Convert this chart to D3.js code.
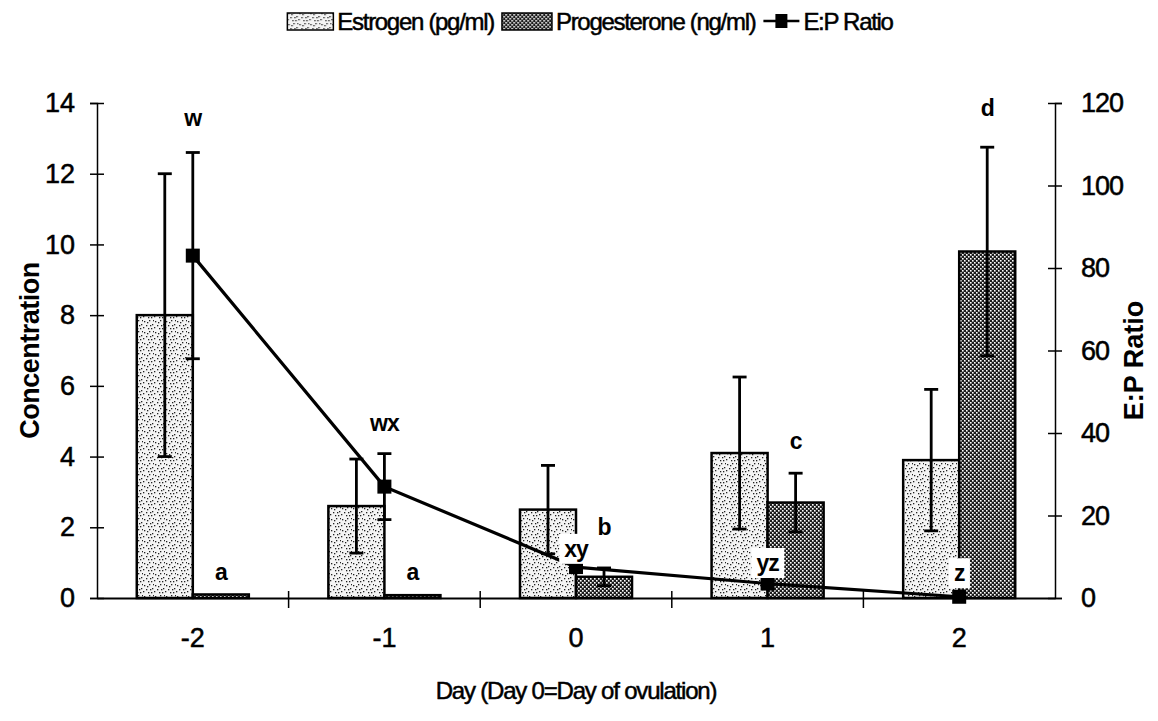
<!DOCTYPE html>
<html><head><meta charset="utf-8">
<script src="https://cdn.jsdelivr.net/npm/d3@7"></script>
<style>
body{margin:0;background:#fff}
svg{display:block}
text{font-family:"Liberation Sans",Arial,Helvetica,sans-serif;fill:#000}
.heavy{stroke:#000;stroke-width:0.5px}
</style>
</head><body>
<svg id="c" width="1158" height="721"></svg>
<script>
// ---------- data ----------
const days = ["-2", "-1", "0", "1", "2"];
const estrogen = [8.0, 2.6, 2.5, 4.1, 3.9];
const estrogenErr = [4.0, 1.33, 1.25, 2.15, 2.0];
const progesterone = [0.1, 0.08, 0.6, 2.7, 9.8];
const progesteroneErr = [0, 0, 0.25, 0.83, 2.95];
const epRatio = [83, 27, 7.5, 3.5, 0.3];
const epRatioErr = [25, 8, 0, 0, 0];
const leftTicks = [0, 2, 4, 6, 8, 10, 12, 14];
const rightTicks = [0, 20, 40, 60, 80, 100, 120];
const seriesNames = ["Estrogen (pg/ml)", "Progesterone (ng/ml)", "E:P Ratio"];
const labelText = ["w", "a", "wx", "a", "xy", "b", "yz", "c", "z", "d"];
const labelDay = ["-2", "-2", "-1", "-1", "0", "0", "1", "1", "2", "2"];
const labelSeries = ["group", "prog", "group", "prog", "group", "prog", "group", "prog", "group", "prog"];
const labelValue = [13.57, 0.74, 4.95, 0.74, 1.39, 2.0, 0.99, 4.44, 0.7, 13.86];
const labelBoxed = [false, false, false, false, true, false, true, false, true, false];

// ---------- layout ----------
const svg = d3.select("#c");
const L = 97, R = 1055, T = 103, B = 598;

const x0 = d3.scaleBand().domain(days).range([L, R]).padding(0);
const x1 = d3.scaleBand().domain(["E", "P"]).range([0, x0.bandwidth()]).paddingInner(0).paddingOuter(0.71);
const yL = d3.scaleLinear().domain([0, 14]).range([B, T]);
const yR = d3.scaleLinear().domain([0, 120]).range([B, T]);

// ---------- patterns ----------
const defs = svg.append("defs");
const pe = defs.append("pattern").attr("id", "pEst").attr("patternUnits", "userSpaceOnUse")
  .attr("width", 11).attr("height", 11);
pe.append("rect").attr("width", 11).attr("height", 11).attr("fill", "#f4f4f4");
[[1,2],[6,1],[3,6],[9,5],[5,9],[8,9],[0,8],[4,3],[10,1],[7,6]].forEach(d =>
  pe.append("rect").attr("x", d[0]).attr("y", d[1]).attr("width", 1.3).attr("height", 1.3).attr("fill", "#222"));
const pp = defs.append("pattern").attr("id", "pProg").attr("patternUnits", "userSpaceOnUse")
  .attr("width", 4).attr("height", 4);
pp.append("rect").attr("width", 4).attr("height", 4).attr("fill", "#1c1c1c");
pp.append("rect").attr("x", 0).attr("y", 0).attr("width", 1.6).attr("height", 1.6).attr("fill", "#fff");
pp.append("rect").attr("x", 2).attr("y", 2).attr("width", 1.6).attr("height", 1.6).attr("fill", "#fff");

// ---------- axes ----------
const axL = svg.append("g").attr("transform", `translate(${L},0)`)
  .call(d3.axisLeft(yL).tickValues(leftTicks).tickSize(7).tickPadding(15));
axL.select(".domain").attr("stroke", "#000").attr("stroke-width", 1.5);
axL.selectAll(".tick line").attr("x1", -7).attr("x2", 7).attr("stroke", "#000").attr("stroke-width", 1.5);
axL.selectAll("text").attr("class", "heavy").style("font-size", "27px").style("font-family", "'Liberation Sans',Arial,sans-serif");

const axR = svg.append("g").attr("transform", `translate(${R},0)`)
  .call(d3.axisRight(yR).tickValues(rightTicks).tickSize(7).tickPadding(19));
axR.select(".domain").attr("stroke", "#000").attr("stroke-width", 1.5);
axR.selectAll(".tick line").attr("x1", -7).attr("x2", 7).attr("stroke", "#000").attr("stroke-width", 1.5);
axR.selectAll("text").attr("class", "heavy").style("font-size", "27px").style("letter-spacing", "-1px")
  .style("font-family", "'Liberation Sans',Arial,sans-serif");

const axB = svg.append("g").attr("transform", `translate(0,${B})`)
  .call(d3.axisBottom(x0).tickSize(0).tickPadding(30));
axB.select(".domain").attr("stroke", "#000").attr("stroke-width", 2);
axB.selectAll("text").attr("class", "heavy").style("font-size", "27px").style("font-family", "'Liberation Sans',Arial,sans-serif");
// category separators crossing the baseline
svg.append("g").selectAll("line").data(days.slice(1)).join("line")
  .attr("x1", d => x0(d)).attr("x2", d => x0(d))
  .attr("y1", B - 7).attr("y2", B + 10)
  .attr("stroke", "#000").attr("stroke-width", 1.5);

// ---------- bars ----------
const gBars = svg.append("g");
days.forEach((d, i) => {
  gBars.append("rect")
    .attr("x", x0(d) + x1("E")).attr("width", x1.bandwidth())
    .attr("y", yL(estrogen[i])).attr("height", yL(0) - yL(estrogen[i]))
    .attr("fill", "url(#pEst)").attr("stroke", "#000").attr("stroke-width", 2.5);
  gBars.append("rect")
    .attr("x", x0(d) + x1("P")).attr("width", x1.bandwidth())
    .attr("y", yL(progesterone[i])).attr("height", yL(0) - yL(progesterone[i]))
    .attr("fill", "url(#pProg)").attr("stroke", "#000").attr("stroke-width", 2.5);
});

// ---------- error bars ----------
function errBar(g, cx, yTop, yBot) {
  g.append("line").attr("x1", cx).attr("x2", cx).attr("y1", yTop).attr("y2", yBot)
    .attr("stroke", "#000").attr("stroke-width", 2.8);
  [yTop, yBot].forEach(y => g.append("line").attr("x1", cx - 7).attr("x2", cx + 7).attr("y1", y).attr("y2", y)
    .attr("stroke", "#000").attr("stroke-width", 2.8));
}
const gErr = svg.append("g");
days.forEach((d, i) => {
  if (estrogenErr[i] > 0) {
    const cx = x0(d) + x1("E") + x1.bandwidth() / 2;
    errBar(gErr, cx, yL(estrogen[i] + estrogenErr[i]), yL(estrogen[i] - estrogenErr[i]));
  }
  if (progesteroneErr[i] > 0) {
    const cx = x0(d) + x1("P") + x1.bandwidth() / 2;
    errBar(gErr, cx, yL(progesterone[i] + progesteroneErr[i]), yL(progesterone[i] - progesteroneErr[i]));
  }
});

// ---------- ratio line ----------
const cxG = d => x0(d) + x0.bandwidth() / 2;
const line = d3.line().x((v, i) => cxG(days[i])).y(v => yR(v));
svg.append("path").datum(epRatio).attr("d", line)
  .attr("fill", "none").attr("stroke", "#000").attr("stroke-width", 3.2);
days.forEach((d, i) => {
  if (epRatioErr[i] > 0) errBar(gErr, cxG(d), yR(epRatio[i] + epRatioErr[i]), yR(epRatio[i] - epRatioErr[i]));
});
svg.append("g").selectAll("rect").data(epRatio).join("rect")
  .attr("x", (v, i) => cxG(days[i]) - 7).attr("y", v => yR(v) - 7)
  .attr("width", 14).attr("height", 14).attr("fill", "#000");

// ---------- significance letters ----------
const gLab = svg.append("g");
labelText.forEach((t, i) => {
  const d = labelDay[i];
  const cx = labelSeries[i] === "group" ? cxG(d) : x0(d) + x1("P") + x1.bandwidth() / 2;
  const cy = yL(labelValue[i]);
  const g = gLab.append("g");
  const txt = g.append("text").attr("x", cx).attr("y", cy).attr("text-anchor", "middle")
    .attr("dominant-baseline", "central").style("font-size", "23px").style("font-weight", "bold")
    .style("letter-spacing", "-1px").text(t);
  if (labelBoxed[i]) {
    const bb = txt.node().getBBox();
    g.insert("rect", "text").attr("x", bb.x - 5).attr("y", bb.y - 2)
      .attr("width", bb.width + 10).attr("height", bb.height + 4).attr("fill", "#fff");
  }
});

// ---------- axis titles ----------
svg.append("text").attr("transform", `translate(30,${(T + B) / 2}) rotate(-90)`)
  .attr("text-anchor", "middle").attr("dominant-baseline", "central")
  .style("font-size", "27px").style("font-weight", "bold").style("letter-spacing", "-0.5px").text("Concentration");
svg.append("text").attr("transform", `translate(1134,${(T + B) / 2 + 10}) rotate(-90)`)
  .attr("text-anchor", "middle").attr("dominant-baseline", "central")
  .style("font-size", "27px").style("font-weight", "bold").text("E:P Ratio");
svg.append("text").attr("x", (L + R) / 2).attr("y", 690).attr("text-anchor", "middle")
  .attr("dominant-baseline", "central").attr("class", "heavy").style("font-size", "24px").style("letter-spacing", "-1.2px")
  .text("Day (Day 0=Day of ovulation)");

// ---------- legend ----------
const leg = svg.append("g");
const ly = 21;
let lx = 0;
leg.append("rect").attr("x", lx).attr("y", ly - 8).attr("width", 46).attr("height", 17)
  .attr("fill", "url(#pEst)").attr("stroke", "#000").attr("stroke-width", 1.5);
lx += 50;
const t1 = leg.append("text").attr("x", lx).attr("y", ly).attr("dominant-baseline", "central").attr("class", "heavy")
  .style("font-size", "24px").style("letter-spacing", "-1.3px").text(seriesNames[0]);
lx += t1.node().getComputedTextLength() + 8;
leg.append("rect").attr("x", lx).attr("y", ly - 8).attr("width", 50).attr("height", 17)
  .attr("fill", "url(#pProg)").attr("stroke", "#000").attr("stroke-width", 1.5);
lx += 54;
const t2 = leg.append("text").attr("x", lx).attr("y", ly).attr("dominant-baseline", "central").attr("class", "heavy")
  .style("font-size", "24px").style("letter-spacing", "-1.3px").text(seriesNames[1]);
lx += t2.node().getComputedTextLength() + 8;
leg.append("line").attr("x1", lx).attr("x2", lx + 36).attr("y1", ly).attr("y2", ly)
  .attr("stroke", "#000").attr("stroke-width", 2.5);
leg.append("rect").attr("x", lx + 12).attr("y", ly - 7).attr("width", 12).attr("height", 14).attr("fill", "#000");
lx += 40;
const t3 = leg.append("text").attr("x", lx).attr("y", ly).attr("dominant-baseline", "central").attr("class", "heavy")
  .style("font-size", "24px").style("letter-spacing", "-1.3px").text(seriesNames[2]);
lx += t3.node().getComputedTextLength();
leg.attr("transform", `translate(${(L + R) / 2 - lx / 2 + 14},0)`);
</script>
</body></html>
